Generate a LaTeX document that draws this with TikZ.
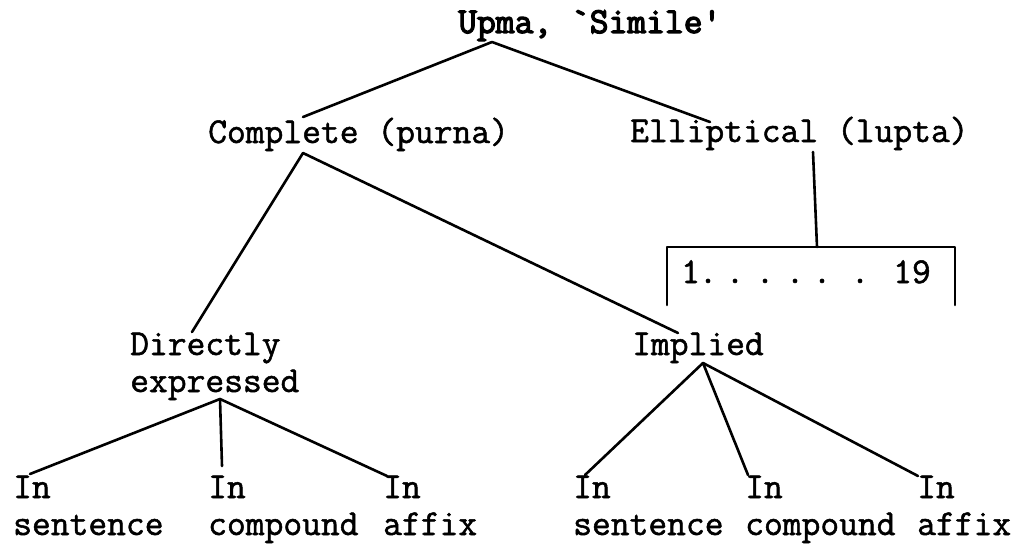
\documentclass[tikz,border=0pt]{standalone}
\usepackage{fontspec}
\setmonofont{Latin Modern Mono}[FakeBold=1.4]
\newfontfamily\titlefnt{Latin Modern Mono}[FakeBold=3.5]
\usetikzlibrary{positioning}
\newcommand{\typefnt}{\ttfamily\fontsize{36.5}{37}\selectfont}
\tikzset{
  lbl/.style={anchor=base west, inner sep=0pt, align=left, font=\typefnt},
  dotmark/.style={anchor=base, inner sep=0pt, font=\typefnt},
  branch/.style={line width=2.6pt, line cap=round, line join=round}
}

\begin{document}
\begin{tikzpicture}[x=1pt,y=-1pt]
    \useasboundingbox (0,0) rectangle (1019,543);
    \node[lbl, font=\titlefnt\fontsize{36.5}{37}\selectfont] (upma) at (458,33) {Upma, `Simile'};
    \node[lbl] (complete) at (208,143) {Complete (purna)};
    \node[lbl] (elliptical) at (630,142) {Elliptical (lupta)};
    \node[lbl] (direct) at (130,392) {Directly\\expressed};
    \node[lbl] (implied) at (632,355) {Implied};
    \node[lbl] (one) at (681,283) {1};
    \node[lbl] (nineteen) at (893,283) {19};
    \foreach \x in {708,735,765,795,822,860}
        \node[dotmark] at (\x,283) {.};
    \node[lbl] (dsent) at (13,535) {In\\sentence};
    \node[lbl] (dcomp) at (208,535) {In\\compound};
    \node[lbl] (daff) at (383,535) {In\\affix};
    \node[lbl] (isent) at (573,535) {In\\sentence};
    \node[lbl] (icomp) at (745,535) {In\\compound};
    \node[lbl] (iaff) at (917,535) {In\\affix};
    \coordinate (upma-b) at (492,42);
    \coordinate (complete-t) at (303,117);
    \coordinate (complete-b) at (303,153);
    \coordinate (elliptical-t) at (710,122);
    \coordinate (elliptical-b) at (813,152);
    \coordinate (bracket-t) at (817,247);
    \coordinate (bracket-l) at (667,305);
    \coordinate (bracket-r) at (955,305);
    \coordinate (direct-t) at (192,332);
    \coordinate (direct-b) at (220,399);
    \coordinate (implied-t) at (678,333);
    \coordinate (implied-b) at (703,363);
    \coordinate (dsent-t) at (30,474);
    \coordinate (dcomp-t) at (222,466);
    \coordinate (daff-t) at (387,476);
    \coordinate (isent-t) at (585,475);
    \coordinate (icomp-t) at (748,475);
    \coordinate (iaff-t) at (918,476);
    \draw[branch] (complete-t) -- (upma-b) -- (elliptical-t);
    \draw[branch] (direct-t) -- (complete-b) -- (implied-t);
    \draw[branch] (elliptical-b) -- (bracket-t);
    \draw[branch] (bracket-l) |- (bracket-t) -| (bracket-r);
    \draw[branch] (direct-b) -- (dsent-t);
    \draw[branch] (direct-b) -- (dcomp-t);
    \draw[branch] (direct-b) -- (daff-t);
    \draw[branch] (implied-b) -- (isent-t);
    \draw[branch] (implied-b) -- (icomp-t);
    \draw[branch] (implied-b) -- (iaff-t);
\end{tikzpicture}
\end{document}
